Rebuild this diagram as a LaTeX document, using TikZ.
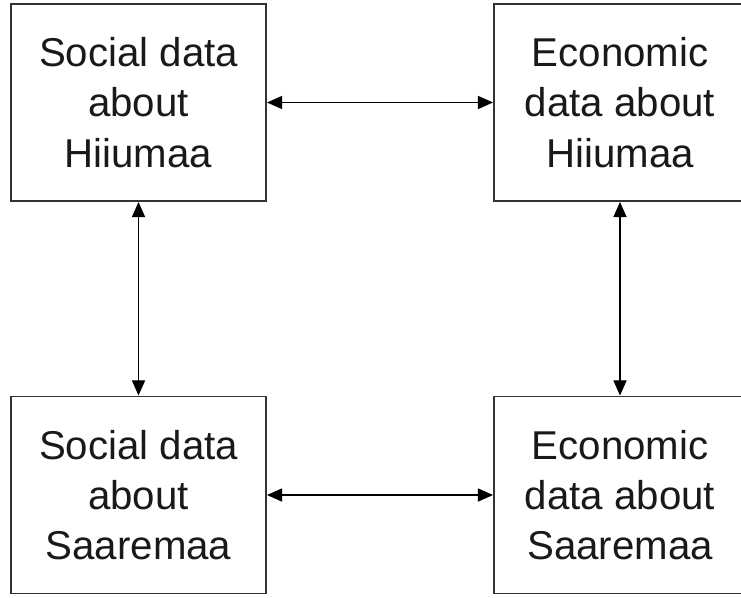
\documentclass[tikz,border=0pt]{standalone}
\usepackage{fontspec}
\setmainfont{Liberation Sans}
\usetikzlibrary{arrows.meta}

\begin{document}
\begin{tikzpicture}[x=0.025cm, y=-0.025cm,
    box/.style={draw=black!80, line width=1.4pt, minimum height=197*0.025cm,
      align=center, text=black!90, font=\fontsize{28.6}{35.8}\selectfont},
    link/.style={line width=0.8pt, {Triangle[length=0.38cm,width=0.33cm]}-{Triangle[length=0.38cm,width=0.33cm]}}]
    \useasboundingbox (0,0) rectangle (741,597);
    \clip (0,0) rectangle (741,597);

    % Hiiumaa row
    \node[box, minimum width=255*0.025cm] (socH) at (138.5,102.5) {Social data\\about\\Hiiumaa};
    \node[box, minimum width=252*0.025cm] (ecoH) at (620,102.5) {Economic\\data about\\Hiiumaa};

    % Saaremaa row
    \node[box, minimum width=255*0.025cm] (socS) at (138.5,495) {Social data\\about\\Saaremaa};
    \node[box, minimum width=252*0.025cm] (ecoS) at (620,495) {Economic\\data about\\Saaremaa};

    % Links
    \draw[link] (socH) -- (ecoH);
    \draw[link] (socS) -- (ecoS);
    \draw[link] (socH) -- (socS);
    \draw[link] (ecoH) -- (ecoS);
\end{tikzpicture}
\end{document}
